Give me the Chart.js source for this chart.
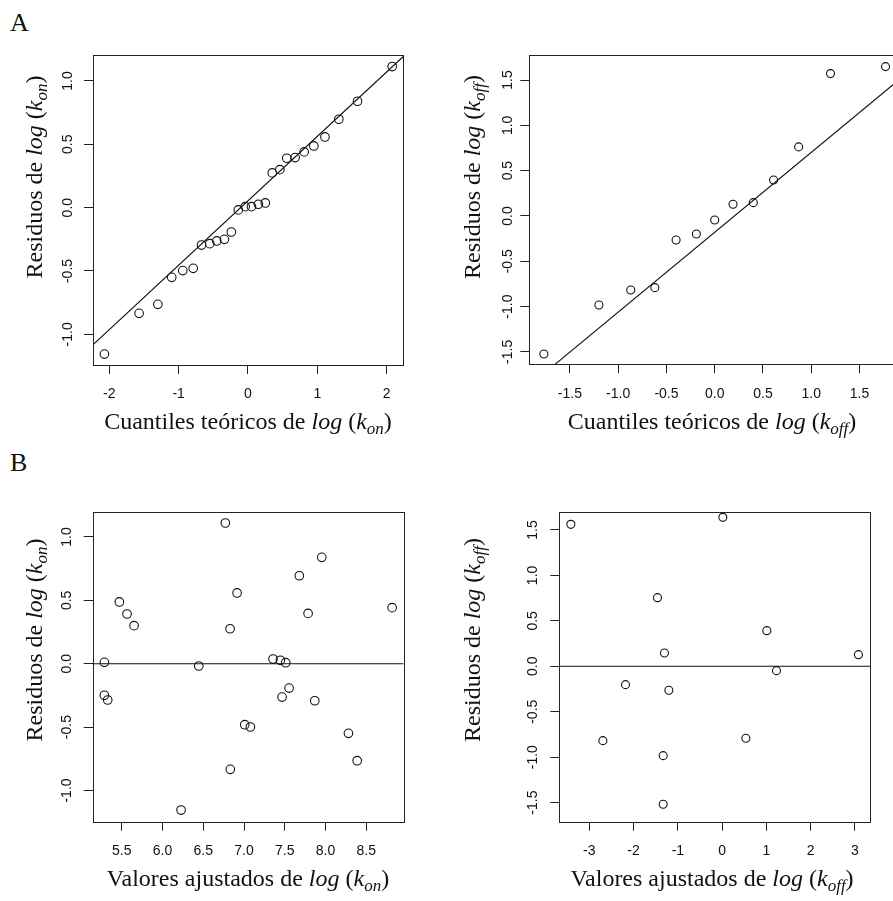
<!DOCTYPE html>
<html>
<head>
<meta charset="utf-8">
<script src="https://cdn.jsdelivr.net/npm/chart.js@4.4.0/dist/chart.umd.min.js"></script>
<style>
html, body { margin: 0; padding: 0; overflow: hidden; background: #fff; width: 893px; height: 901px; }
canvas { position: absolute; }
.t { position: absolute; font-family: 'Liberation Serif', serif; font-size: 24px; color: #111; white-space: nowrap; line-height: 1; }
.t sub { font-size: 17px; vertical-align: -5px; }
.xt { transform: translate(-50%, -50%); }
.yt { transform: translate(-50%, -50%) rotate(-90deg); }
.lbl { position: absolute; font-family: 'Liberation Serif', serif; font-size: 26px; color: #111; line-height: 1; }
</style>
</head>
<body>
<div class="lbl" style="left:10px;top:10px">A</div>
<div class="lbl" style="left:10px;top:450px">B</div>

<canvas id="a1" width="440" height="410" style="left:0;top:40px"></canvas>
<canvas id="a2" width="470" height="410" style="left:440px;top:40px"></canvas>
<canvas id="b1" width="440" height="411" style="left:0;top:490px"></canvas>
<canvas id="b2" width="453" height="411" style="left:440px;top:490px"></canvas>

<div class="t xt" style="left:248px;top:423px">Cuantiles teóricos de <i>log</i> (<i>k</i><sub><i>on</i></sub>)</div>
<div class="t xt" style="left:712px;top:423px">Cuantiles teóricos de <i>log</i> (<i>k</i><sub><i>off</i></sub>)</div>
<div class="t xt" style="left:248px;top:880px">Valores ajustados de <i>log</i> (<i>k</i><sub><i>on</i></sub>)</div>
<div class="t xt" style="left:712px;top:880px">Valores ajustados de <i>log</i> (<i>k</i><sub><i>off</i></sub>)</div>
<div class="t yt" style="left:36px;top:177px">Residuos de <i>log</i> (<i>k</i><sub><i>on</i></sub>)</div>
<div class="t yt" style="left:474px;top:177px">Residuos de <i>log</i> (<i>k</i><sub><i>off</i></sub>)</div>
<div class="t yt" style="left:36px;top:640px">Residuos de <i>log</i> (<i>k</i><sub><i>on</i></sub>)</div>
<div class="t yt" style="left:474px;top:640px">Residuos de <i>log</i> (<i>k</i><sub><i>off</i></sub>)</div>

<script>
// A: normal Q-Q of residuals
const a1Theo = [-2.07, -1.57, -1.30, -1.10, -0.94, -0.79, -0.67, -0.55, -0.45, -0.34, -0.24, -0.14, -0.04,
                0.05, 0.15, 0.25, 0.35, 0.46, 0.56, 0.68, 0.81, 0.95, 1.11, 1.31, 1.58, 2.08];
const a1Resid = [-1.156, -0.834, -0.763, -0.550, -0.497, -0.479, -0.295, -0.284, -0.263, -0.250, -0.192, -0.018, 0.008,
                 0.008, 0.027, 0.037, 0.274, 0.300, 0.390, 0.395, 0.440, 0.487, 0.558, 0.698, 0.840, 1.114];
const a1LineX = [-2.24, 2.24];
const a1LineY = [-1.085, 1.193];

const a2Theo = [-1.77, -1.20, -0.87, -0.62, -0.40, -0.19, 0.00, 0.19, 0.40, 0.61, 0.87, 1.20, 1.77];
const a2Resid = [-1.523, -0.982, -0.817, -0.791, -0.265, -0.199, -0.044, 0.129, 0.147, 0.397, 0.762, 1.571, 1.648];
const a2LineX = [-1.92, 1.92];
const a2LineY = [-1.872, 1.512];

// B: residuals vs fitted
const b1Fit = [6.771, 7.954, 7.679, 6.915, 5.471, 8.817, 7.786, 5.565, 5.651, 6.829, 7.356, 7.446, 7.512,
               5.287, 6.445, 7.553, 5.287, 5.328, 7.467, 7.868, 7.009, 7.078, 8.281, 8.388, 6.832, 6.228];
const b1Resid = [1.110, 0.839, 0.694, 0.558, 0.487, 0.442, 0.397, 0.392, 0.300, 0.276, 0.037, 0.027, 0.008,
                 0.011, -0.018, -0.192, -0.249, -0.286, -0.263, -0.292, -0.481, -0.499, -0.549, -0.765, -0.833, -1.154];
const b1LineX = [5.0, 9.1];
const b1LineY = [0, 0];

const b2Fit = [-3.417, 0.015, -1.461, 1.009, -1.303, 3.078, 1.227, -2.183, -1.204, -2.694, 0.535, -1.332, -1.332];
const b2Resid = [1.562, 1.639, 0.755, 0.392, 0.146, 0.128, -0.048, -0.202, -0.264, -0.818, -0.792, -0.983, -1.518];
const b2LineX = [-3.8, 3.5];
const b2LineY = [0, 0];

// tick labels
const xTicksA1 = ['-2', '-1', '0', '1', '2'];
const xTicksA2 = ['-1.5', '-1.0', '-0.5', '0.0', '0.5', '1.0', '1.5'];
const xTicksB1 = ['5.5', '6.0', '6.5', '7.0', '7.5', '8.0', '8.5'];
const xTicksB2 = ['-3', '-2', '-1', '0', '1', '2', '3'];
const yTicksOn = ['-1.0', '-0.5', '0.0', '0.5', '1.0'];
const yTicksOff = ['-1.5', '-1.0', '-0.5', '0.0', '0.5', '1.0', '1.5'];

Chart.defaults.font.family = "'Liberation Sans', Arial, sans-serif";
Chart.defaults.font.size = 14;
Chart.defaults.color = '#111';

const frame = {
    id: 'frame',
    afterDraw(chart) {
        const a = chart.chartArea, c = chart.ctx;
        c.save();
        c.strokeStyle = '#222';
        c.lineWidth = 1;
        c.strokeRect(Math.round(a.left) + 0.5, Math.round(a.top) + 0.5,
                     Math.round(a.right - a.left), Math.round(a.bottom - a.top));
        c.restore();
    }
};

function panel(id, o) {
    const pts = o.xs.map((x, i) => ({ x: x, y: o.ys[i] }));
    const line = o.lx.map((x, i) => ({ x: x, y: o.ly[i] }));
    return new Chart(document.getElementById(id).getContext('2d'), {
        type: 'scatter',
        data: {
            datasets: [
                { data: pts, pointStyle: 'circle', pointRadius: o.r, borderColor: '#111',
                  backgroundColor: 'rgba(0,0,0,0)', borderWidth: 1.1 },
                { type: 'line', data: line, borderColor: '#111', borderWidth: 1.1,
                  pointRadius: 0, fill: false }
            ]
        },
        options: {
            responsive: false,
            animation: false,
            events: [],
            layout: { padding: o.pad },
            plugins: { legend: { display: false }, tooltip: { enabled: false } },
            scales: {
                x: {
                    type: 'linear', min: o.xmin, max: o.xmax,
                    afterBuildTicks: s => { s.ticks = o.xl.map(v => ({ value: parseFloat(v) })); },
                    afterFit: s => { s.height = o.xh; s.paddingLeft = 0; s.paddingRight = 0; },
                    ticks: { callback: (v, i) => o.xl[i], padding: 12, minRotation: 0, maxRotation: 0, autoSkip: false },
                    grid: { drawOnChartArea: false, tickLength: 9, color: '#222' },
                    border: { display: false }
                },
                y: {
                    type: 'linear', min: o.ymin, max: o.ymax,
                    afterBuildTicks: s => { s.ticks = o.yl.map(v => ({ value: parseFloat(v) })); },
                    afterFit: s => { s.width = o.yw; s.paddingTop = 0; s.paddingBottom = 0; },
                    ticks: { callback: (v, i) => o.yl[i], padding: o.yp, minRotation: 90, maxRotation: 90,
                             crossAlign: 'center', autoSkip: false },
                    grid: { drawOnChartArea: false, tickLength: 9, color: '#222' },
                    border: { display: false }
                }
            }
        },
        plugins: [frame]
    });
}

panel('a1', { xs: a1Theo, ys: a1Resid, lx: a1LineX, ly: a1LineY, r: 4.3,
    xmin: -2.235, xmax: 2.24, ymin: -1.242, ymax: 1.205, xl: xTicksA1, yl: yTicksOn,
    pad: { left: 0, top: 15, right: 36.7, bottom: 0 }, yw: 93, xh: 85, yp: 4 });
panel('a2', { xs: a2Theo, ys: a2Resid, lx: a2LineX, ly: a2LineY, r: 4,
    xmin: -1.921, xmax: 1.92, ymin: -1.637, ymax: 1.776, xl: xTicksA2, yl: yTicksOff,
    pad: { left: 0, top: 15, right: 10, bottom: 0 }, yw: 89.3, xh: 85.7, yp: 0 });
panel('b1', { xs: b1Fit, ys: b1Resid, lx: b1LineX, ly: b1LineY, r: 4.3,
    xmin: 5.144, xmax: 8.954, ymin: -1.246, ymax: 1.199, xl: xTicksB1, yl: yTicksOn,
    pad: { left: 0, top: 21.7, right: 36.7, bottom: 0 }, yw: 92.7, xh: 79.3, yp: 4 });
panel('b2', { xs: b2Fit, ys: b2Resid, lx: b2LineX, ly: b2LineY, r: 4,
    xmin: -3.678, xmax: 3.339, ymin: -1.710, ymax: 1.701, xl: xTicksB2, yl: yTicksOff,
    pad: { left: 0, top: 21.7, right: 23, bottom: 0 }, yw: 119.3, xh: 79.3, yp: 5 });
</script>
</body>
</html>
